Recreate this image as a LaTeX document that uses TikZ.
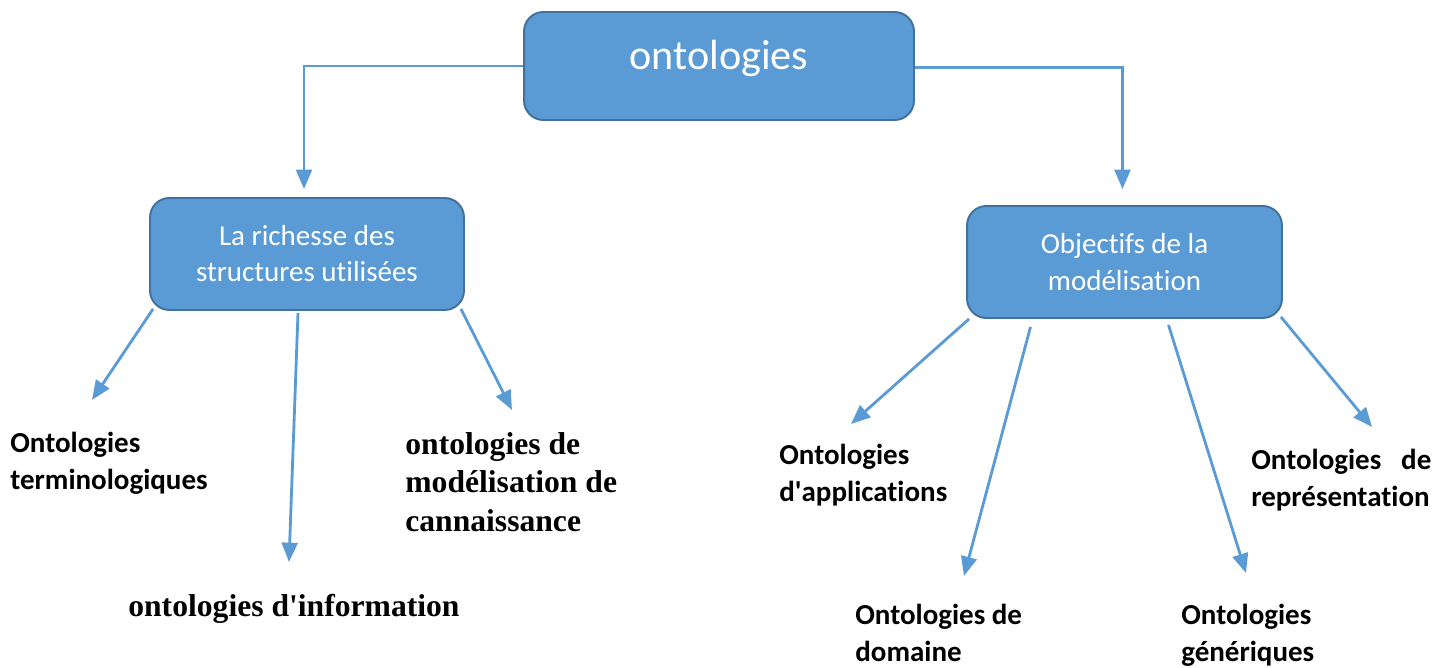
\documentclass[tikz,border=0pt]{standalone}
\usepackage{fontspec}
\setmainfont{Carlito}[Ligatures=NoCommon]
\newfontfamily\timesrm{Liberation Serif}
\usetikzlibrary{arrows.meta}

\definecolor{boxblue}{HTML}{5B9BD5}
\definecolor{boxedge}{HTML}{41719C}

\begin{document}
\begin{tikzpicture}[x=0.02cm, y=-0.02cm,
    box/.style={draw=boxedge, fill=boxblue, line width=1.1pt, rounded corners=11pt,
                text=white, align=center},
    link/.style={draw=boxblue, line width=1.6pt, -{Triangle[length=11pt,width=9pt]}},
    leaf/.style={anchor=north west, inner sep=0pt, align=left,
                 font=\fontsize{16.5}{21}\selectfont\bfseries},
    leafrm/.style={anchor=north west, inner sep=0pt, align=left,
                   font=\timesrm\fontsize{18}{22}\selectfont\bfseries}]

  \useasboundingbox (0,0) rectangle (1445,668);

  % ================= boxes =================
  \node[box, minimum width=7.8cm, minimum height=2.16cm, text depth=0.46cm,
        font=\fontsize{24}{28}\selectfont] (onto) at (719,66) {ontologies};
  \node[box, minimum width=6.28cm, minimum height=2.24cm,
        font=\fontsize{16.5}{20.5}\selectfont] (rich) at (307,254)
        {La richesse des\\structures utilisées};
  \node[box, minimum width=6.3cm, minimum height=2.24cm,
        font=\fontsize{16.5}{21.5}\selectfont] (goal) at (1124.5,262)
        {Objectifs de la\\modélisation};

  % ================= top connectors =================
  \draw[link] (onto.west) -| ([shift={(-3,-8)}]rich.north);
  \draw[link] ([yshift=-1pt]onto.east) -| ([shift={(-2,-16)}]goal.north);

  % ================= kinds, left side =================
  \node[leaf]   (term) at (10,432)  {Ontologies\\terminologiques};
  \node[leafrm] (know) at (405,432) {ontologies de\\modélisation de\\cannaissance};
  \node[leafrm] (info) at (128,594) {ontologies d\textquotesingle information};

  % ================= kinds, right side =================
  \node[leaf] (appl) at (779,444) {Ontologies\\d\textquotesingle applications};
  \node[leaf, text width=3.6cm] (repr) at (1251,449) {Ontologies\hfill de\\représentation};
  \node[leaf] (doma) at (855,604) {Ontologies de\\domaine};
  \node[leaf] (gene) at (1181,604) {Ontologies\\génériques};

  % ================= arrow tips =================
  \coordinate (tTerm) at (92,400);
  \coordinate (tInfo) at (289,562);
  \coordinate (tKnow) at (512,410);
  \coordinate (tAppl) at (851,424);
  \coordinate (tDoma) at (964,576);
  \coordinate (tGene) at (1246,573);
  \coordinate (tRepr) at (1372,427);

  % ================= branches =================
  \draw[link] ([shift={(4,-2)}]rich.south west) -- (tTerm);
  \draw[link] ([shift={(-9,2)}]rich.south)      -- (tInfo);
  \draw[link] ([shift={(-4,-2)}]rich.south east) -- (tKnow);

  \draw[link] ([shift={(3,0)}]goal.south west)  -- (tAppl);
  \draw[link] ([shift={(-94,8)}]goal.south)     -- (tDoma);
  \draw[link] ([shift={(44,6)}]goal.south)      -- (tGene);
  \draw[link] ([shift={(-2,-2)}]goal.south east) -- (tRepr);

\end{tikzpicture}
\end{document}
